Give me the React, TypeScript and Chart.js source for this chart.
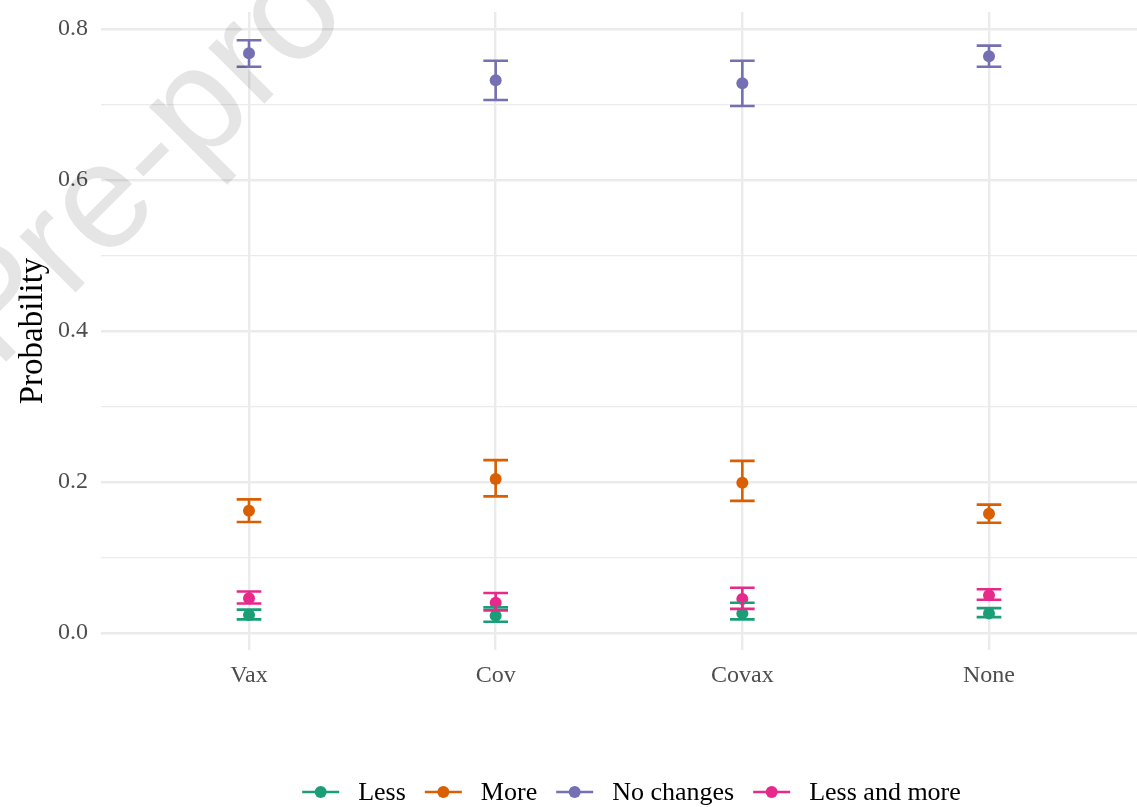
import React, { useEffect, useRef } from "react";
import { Chart, registerables } from "chart.js";

Chart.register(...registerables);

const categories = ["Vax", "Cov", "Covax", "None"];
const seriesNames = ["Less", "More", "No changes", "Less and more"];
const seriesColors = ["#1B9E77", "#D95F02", "#7570B3", "#E7298A"];

const lessMean = [0.024, 0.023, 0.026, 0.026];
const lessLow = [0.018, 0.015, 0.018, 0.021];
const lessHigh = [0.031, 0.034, 0.040, 0.033];

const moreMean = [0.162, 0.204, 0.199, 0.158];
const moreLow = [0.147, 0.181, 0.175, 0.146];
const moreHigh = [0.177, 0.229, 0.228, 0.170];

const noChangeMean = [0.768, 0.732, 0.728, 0.764];
const noChangeLow = [0.750, 0.706, 0.698, 0.750];
const noChangeHigh = [0.785, 0.758, 0.758, 0.778];

const lessMoreMean = [0.046, 0.040, 0.045, 0.050];
const lessMoreLow = [0.039, 0.030, 0.032, 0.044];
const lessMoreHigh = [0.055, 0.053, 0.060, 0.058];

const yTicks = [0, 0.1, 0.2, 0.3, 0.4, 0.5, 0.6, 0.7, 0.8];
const watermarkText = "Journal Pre-proof";

const means = [lessMean, moreMean, noChangeMean, lessMoreMean];
const lows = [lessLow, moreLow, noChangeLow, lessMoreLow];
const highs = [lessHigh, moreHigh, noChangeHigh, lessMoreHigh];

const SERIF = "'Liberation Serif', 'DejaVu Serif', serif";

export default function App() {
  const ref = useRef<HTMLCanvasElement | null>(null);

  useEffect(() => {
    const canvas = ref.current;
    if (!canvas) return;

    const datasets = seriesNames.map((name, s) => ({
      label: name,
      data: categories.map((_, i) => ({ x: i, y: means[s][i] })),
      low: lows[s],
      high: highs[s],
      backgroundColor: seriesColors[s],
      borderColor: seriesColors[s],
      pointRadius: 6,
      pointBorderWidth: 0,
      showLine: false,
    }));

    const errorBars = {
      id: "errorBars",
      afterDatasetsDraw(chart: any) {
        const ctx = chart.ctx;
        const xs = chart.scales.x;
        const ys = chart.scales.y;
        ctx.save();
        chart.data.datasets.forEach((ds: any) => {
          ctx.strokeStyle = ds.borderColor;
          ctx.lineWidth = 2.6;
          ds.data.forEach((p: any, i: number) => {
            const xc = xs.getPixelForValue(p.x);
            const x0 = xs.getPixelForValue(p.x - 0.05);
            const x1 = xs.getPixelForValue(p.x + 0.05);
            const yl = ys.getPixelForValue(ds.low[i]);
            const yh = ys.getPixelForValue(ds.high[i]);
            ctx.beginPath();
            ctx.moveTo(xc, yl);
            ctx.lineTo(xc, yh);
            ctx.moveTo(x0, yl);
            ctx.lineTo(x1, yl);
            ctx.moveTo(x0, yh);
            ctx.lineTo(x1, yh);
            ctx.stroke();
          });
        });
        ctx.restore();
      },
    };

    const legendAndMark = {
      id: "legendAndMark",
      afterDraw(chart: any) {
        const ctx = chart.ctx;
        ctx.save();
        // legend
        ctx.font = `26px ${SERIF}`;
        ctx.textBaseline = "middle";
        ctx.textAlign = "left";
        const lineLen = 37;
        const gap = 19;
        const spacing = 19;
        const widths = seriesNames.map((n) => ctx.measureText(n).width);
        const total =
          widths.reduce((a, w) => a + lineLen + gap + w, 0) + spacing * (seriesNames.length - 1);
        let x = 631.5 - total / 2;
        const y = 792;
        seriesNames.forEach((n, i) => {
          ctx.strokeStyle = seriesColors[i];
          ctx.fillStyle = seriesColors[i];
          ctx.lineWidth = 2.6;
          ctx.beginPath();
          ctx.moveTo(x, y);
          ctx.lineTo(x + lineLen, y);
          ctx.stroke();
          ctx.beginPath();
          ctx.arc(x + lineLen / 2, y, 6, 0, Math.PI * 2);
          ctx.fill();
          ctx.fillStyle = "#000000";
          ctx.fillText(n, x + lineLen + gap, y + 1);
          x += lineLen + gap + widths[i] + spacing;
        });
        // watermark
        ctx.font = "150px 'Liberation Sans', Arial, sans-serif";
        ctx.fillStyle = "rgba(0,0,0,0.1)";
        ctx.textBaseline = "alphabetic";
        const pre = ctx.measureText("Journal Pre-").width;
        ctx.translate(198, 170);
        ctx.rotate(-Math.PI / 4);
        ctx.fillText(watermarkText, -pre, 0);
        ctx.restore();
      },
    };

    const chart = new Chart(canvas, {
      type: "scatter",
      data: { datasets } as any,
      plugins: [errorBars, legendAndMark],
      options: {
        animation: false,
        responsive: false,
        maintainAspectRatio: false,
        layout: { padding: { top: 12, left: 0, right: 0, bottom: 0 } },
        plugins: { legend: { display: false }, tooltip: { enabled: false } },
        scales: {
          x: {
            type: "linear",
            min: -0.6,
            max: 3.6,
            afterBuildTicks(scale: any) {
              scale.ticks = categories.map((_, i) => ({ value: i }));
            },
            afterFit(scale: any) {
              scale.height = 157;
              scale.paddingLeft = 0;
              scale.paddingRight = 0;
            },
            border: { display: false },
            grid: { color: "#ebebeb", lineWidth: 2.4, drawTicks: false },
            ticks: {
              padding: 11,
              color: "#4d4d4d",
              font: { family: SERIF, size: 24 },
              callback: (v: any) => categories[Math.round(Number(v))] ?? "",
            },
          },
          y: {
            type: "linear",
            min: -0.0225,
            max: 0.8225,
            afterBuildTicks(scale: any) {
              scale.ticks = yTicks.map((v) => ({ value: v }));
            },
            afterFit(scale: any) {
              scale.width = 101;
              scale.paddingTop = 0;
              scale.paddingBottom = 0;
            },
            border: { display: false },
            grid: {
              color: "#ebebeb",
              drawTicks: false,
              lineWidth: (c: any) => {
                const v = c.tick ? c.tick.value : 0;
                return Math.round(v * 10) % 2 === 0 ? 2.4 : 1.2;
              },
            },
            title: {
              display: true,
              text: "Probability",
              color: "#000000",
              font: { family: SERIF, size: 33 },
              padding: { top: 14, bottom: 0 },
            },
            ticks: {
              padding: 13,
              color: "#4d4d4d",
              font: { family: SERIF, size: 24 },
              callback: (v: any) => {
                const n = Math.round(Number(v) * 10);
                return n % 2 === 0 ? (n / 10).toFixed(1) : "";
              },
            },
          },
        },
      } as any,
    });

    return () => chart.destroy();
  }, []);

  return (
    <div
      style={{
        position: "fixed",
        left: 0,
        top: 0,
        width: 1137,
        height: 807,
        overflow: "hidden",
        background: "#ffffff",
      }}
    >
      <canvas ref={ref} width={1143} height={807} style={{ width: 1143, height: 807, display: "block" }} />
    </div>
  );
}
